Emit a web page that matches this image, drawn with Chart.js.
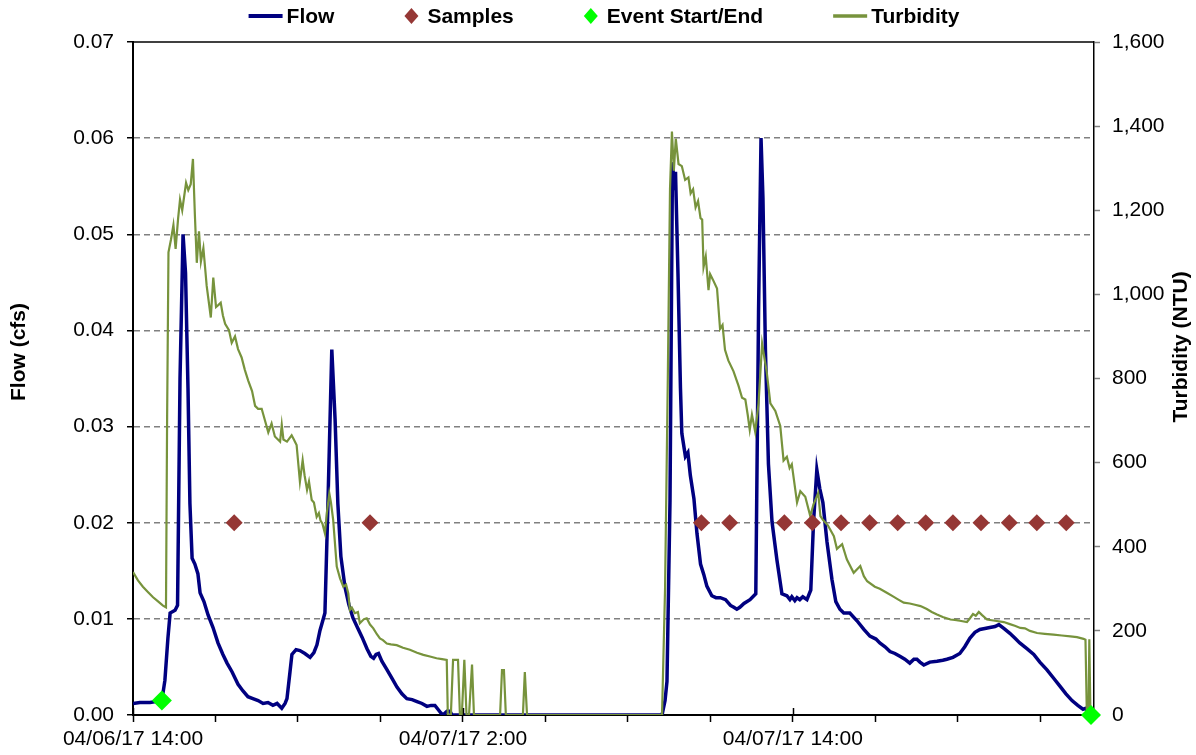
<!DOCTYPE html>
<html lang="en">
<head>
    <meta charset="UTF-8">
    <title>Flow, Samples &amp; Turbidity</title>
    <script src="https://cdn.jsdelivr.net/npm/chart.js"></script>
    <style>
        html, body { margin: 0; padding: 0; background: #fff; }
        #chart-container { position: relative; width: 1196px; height: 755px; }
    </style>
</head>
<body>

<div id="chart-container">
    <canvas id="flowChart"></canvas>
</div>

<script>
    // time axis: hours after 04/06/17 14:00
    const labelHours = [0, 12, 24];
    const labelTexts = ['04/06/17 14:00', '04/07/17 2:00', '04/07/17 14:00'];

    // Flow (cfs)
    const flowHours = [
        0, 0.25, 0.62, 0.84, 1.05, 1.16, 1.27, 1.35, 1.53, 1.62,
        1.71, 1.82, 1.91, 2.00, 2.07, 2.15, 2.25, 2.36, 2.44, 2.58,
        2.73, 2.91, 3.09, 3.27, 3.42, 3.60, 3.82, 4.00, 4.18, 4.36,
        4.55, 4.73, 4.91, 5.09, 5.24, 5.41, 5.53, 5.60, 5.71, 5.78,
        5.93, 6.07, 6.25, 6.44, 6.58, 6.69, 6.80, 6.87, 6.98, 7.09,
        7.23, 7.35, 7.45, 7.56, 7.71, 7.85, 8.00, 8.18, 8.33, 8.51,
        8.65, 8.75, 8.84, 8.93, 9.05, 9.24, 9.42, 9.60, 9.78, 9.96,
        10.15, 10.33, 10.51, 10.69, 10.84, 10.98, 11.09, 11.20, 11.27, 11.42,
        11.53, 11.60, 19.24, 19.35, 19.42, 19.53, 19.62, 19.67, 19.73, 19.82,
        19.91, 19.96, 20.09, 20.18, 20.27, 20.40, 20.51, 20.64, 20.76, 20.87,
        21.05, 21.20, 21.36, 21.55, 21.73, 21.85, 21.96, 22.07, 22.22, 22.44,
        22.65, 22.75, 22.84, 22.91, 23.00, 23.11, 23.24, 23.42, 23.60, 23.78,
        23.89, 23.96, 24.07, 24.15, 24.25, 24.36, 24.51, 24.65, 24.75, 24.87,
        24.98, 25.09, 25.24, 25.42, 25.56, 25.71, 25.85, 26.07, 26.33, 26.58,
        26.80, 27.02, 27.16, 27.35, 27.53, 27.71, 27.89, 28.07, 28.25, 28.40,
        28.51, 28.62, 28.76, 28.98, 29.24, 29.45, 29.60, 29.82, 30.07, 30.25,
        30.44, 30.62, 30.80, 30.98, 31.16, 31.35, 31.49, 31.67, 31.89, 32.07,
        32.25, 32.51, 32.76, 32.98, 33.24, 33.49, 33.71, 33.93, 34.15, 34.36,
        34.55, 34.65, 34.76, 34.84
    ];
    const flowValues = [
        0.0012, 0.0013, 0.0013, 0.0014, 0.0015, 0.0036, 0.0080, 0.0106, 0.0109, 0.0114,
        0.0350, 0.0500, 0.0460, 0.0340, 0.0220, 0.0163, 0.0157, 0.0147, 0.0127, 0.0118,
        0.0104, 0.0091, 0.0075, 0.0063, 0.0054, 0.0045, 0.0032, 0.0025, 0.0019, 0.0017,
        0.0015, 0.0012, 0.0013, 0.0010, 0.0012, 0.0007, 0.0012, 0.0017, 0.0045, 0.0063,
        0.0068, 0.0067, 0.0064, 0.0060, 0.0065, 0.0073, 0.0088, 0.0095, 0.0106, 0.0220,
        0.0380, 0.0307, 0.0220, 0.0165, 0.0133, 0.0115, 0.0101, 0.0090, 0.0081, 0.0069,
        0.0061, 0.0059, 0.0063, 0.0064, 0.0056, 0.0047, 0.0038, 0.0029, 0.0022, 0.0017,
        0.0016, 0.0014, 0.0012, 0.0009, 0.0010, 0.0010, 0.0006, 0.0002, 0, 0.0004,
        0.0004, 0, 0, 0.0015, 0.0035, 0.0223, 0.0575, 0.0555, 0.0565, 0.0459,
        0.0340, 0.0293, 0.0269, 0.0273, 0.0249, 0.0225, 0.0189, 0.0157, 0.0146, 0.0134,
        0.0124, 0.0122, 0.0122, 0.0120, 0.0114, 0.0112, 0.0110, 0.0112, 0.0116, 0.0120,
        0.0126, 0.0419, 0.0600, 0.0538, 0.0380, 0.0261, 0.0201, 0.0161, 0.0126, 0.0124,
        0.0120, 0.0123, 0.0119, 0.0122, 0.0120, 0.0123, 0.0120, 0.0130, 0.0201, 0.0255,
        0.0235, 0.0221, 0.0180, 0.0141, 0.0118, 0.0110, 0.0106, 0.0106, 0.0098, 0.0089,
        0.0082, 0.0079, 0.0075, 0.0071, 0.0066, 0.0064, 0.0061, 0.0058, 0.0054, 0.0058,
        0.0058, 0.0055, 0.0052, 0.0055, 0.0056, 0.0057, 0.0058, 0.0060, 0.0064, 0.0071,
        0.0080, 0.0086, 0.0089, 0.0090, 0.0091, 0.0092, 0.0094, 0.0090, 0.0085, 0.0080,
        0.0075, 0.0069, 0.0063, 0.0055, 0.0047, 0.0038, 0.0030, 0.0022, 0.0015, 0.0010,
        0.0006, 0.0007, 0.0002, 0.0001
    ];

    // Turbidity (NTU)
    const turbHours = [
        0, 0.18, 0.36, 0.55, 0.73, 0.91, 1.09, 1.20, 1.24, 1.29,
        1.38, 1.47, 1.55, 1.64, 1.71, 1.79, 1.93, 2.01, 2.10, 2.18,
        2.25, 2.32, 2.40, 2.47, 2.56, 2.68, 2.83, 2.92, 3.02, 3.11,
        3.19, 3.27, 3.35, 3.49, 3.59, 3.71, 3.82, 3.95, 4.07, 4.19,
        4.33, 4.44, 4.55, 4.68, 4.80, 4.92, 5.04, 5.16, 5.27, 5.35,
        5.41, 5.47, 5.60, 5.77, 5.85, 5.95, 6.07, 6.17, 6.24, 6.33,
        6.40, 6.50, 6.58, 6.68, 6.76, 6.82, 6.89, 6.98, 7.05, 7.14,
        7.20, 7.28, 7.41, 7.53, 7.65, 7.75, 7.83, 7.89, 7.96, 8.07,
        8.18, 8.25, 8.40, 8.50, 8.62, 8.74, 8.87, 8.98, 9.09, 9.23,
        9.38, 9.59, 9.82, 10.07, 10.33, 10.56, 10.80, 11.04, 11.24, 11.41,
        11.45, 11.56, 11.64, 11.82, 11.89, 11.96, 12.05, 12.13, 12.22, 12.33,
        12.40, 13.35, 13.42, 13.49, 13.56, 14.18, 14.25, 14.33, 19.24, 19.35,
        19.45, 19.53, 19.60, 19.67, 19.74, 19.84, 19.96, 20.08, 20.20, 20.28,
        20.37, 20.46, 20.55, 20.64, 20.70, 20.75, 20.83, 20.93, 20.99, 21.09,
        21.24, 21.35, 21.44, 21.53, 21.65, 21.84, 22.02, 22.15, 22.27, 22.36,
        22.43, 22.51, 22.63, 22.75, 22.88, 23.05, 23.18, 23.36, 23.54, 23.66,
        23.78, 23.88, 23.96, 24.15, 24.27, 24.45, 24.63, 24.75, 24.92, 25.00,
        25.09, 25.27, 25.49, 25.60, 25.79, 25.96, 26.21, 26.45, 26.58, 26.70,
        26.98, 27.16, 27.43, 27.64, 27.82, 28.03, 28.25, 28.44, 28.64, 28.87,
        29.05, 29.24, 29.45, 29.73, 29.89, 30.07, 30.33, 30.44, 30.55, 30.65,
        30.76, 30.87, 31.06, 31.35, 31.67, 31.89, 32.07, 32.27, 32.44, 32.62,
        32.88, 33.16, 33.48, 33.78, 34.09, 34.33, 34.57, 34.64, 34.69, 34.75,
        34.78, 34.82
    ];
    const turbValues = [
        340, 320, 305, 292, 280, 270, 260, 256, 700, 1100,
        1130, 1165, 1108, 1180, 1225, 1200, 1265, 1248, 1262, 1322,
        1190, 1075, 1150, 1078, 1110, 1020, 945, 1040, 970, 975,
        980, 950, 930, 915, 885, 900, 870, 850, 820, 795,
        770, 735, 728, 728, 700, 672, 693, 662, 655, 650,
        690, 655, 650, 665, 655, 642, 555, 606, 570, 535,
        555, 511, 505, 471, 480, 462, 455, 432, 480, 527,
        505, 464, 353, 325, 305, 310, 289, 250, 255, 242,
        245, 218, 228, 230, 215, 206, 192, 182, 178, 170,
        168, 166, 160, 155, 148, 143, 139, 135, 133, 131,
        0, 0, 131, 131, 0, 0, 131, 0, 0, 120,
        0, 0, 107, 107, 0, 0, 102, 0, 0, 300,
        800, 1250, 1387, 1294, 1370, 1310, 1305, 1272, 1278, 1240,
        1250, 1207, 1222, 1181, 1178, 1065, 1090, 1010, 1048, 1035,
        1014, 918, 927, 868, 843, 817, 783, 754, 750, 712,
        678, 714, 673, 741, 883, 814, 741, 723, 687, 605,
        614, 587, 596, 505, 532, 519, 473, 501, 528, 473,
        464, 451, 425, 395, 406, 370, 338, 354, 330, 318,
        305, 300, 290, 282, 275, 267, 265, 262, 259, 252,
        245, 239, 233, 227, 226, 224, 221, 230, 240, 236,
        245, 238, 227, 224, 221, 216, 212, 207, 206, 200,
        195, 193, 191, 189, 187, 185, 181, 179, 0, 0,
        180, 0
    ];

    // Samples (plotted on the flow axis)
    const sampleHours = [3.68, 8.62, 20.67, 21.70, 23.69, 24.71, 25.75, 26.79, 27.81, 28.83, 29.82, 30.84, 31.87, 32.87, 33.94];
    const sampleValues = [0.02, 0.02, 0.02, 0.02, 0.02, 0.02, 0.02, 0.02, 0.02, 0.02, 0.02, 0.02, 0.02, 0.02, 0.02];

    // Event start / end
    const eventHours = [1.05, 34.84];
    const eventValues = [0.0015, 0];

    const FONT = "'Liberation Sans', Arial, Helvetica, sans-serif";

    function toPoints(xs, ys) {
        if (xs.length !== ys.length) console.warn('length mismatch', xs.length, ys.length);
        return xs.map((x, i) => ({ x: x, y: ys[i] }));
    }

    // legend row + axis titles + top frame line
    const decorPlugin = {
        id: 'decor',
        afterDraw(chart) {
            const { ctx, chartArea: a, scales } = chart;
            ctx.save();

            ctx.strokeStyle = '#000';
            ctx.lineWidth = 1.5;
            ctx.beginPath();
            ctx.moveTo(a.left, a.top);
            ctx.lineTo(a.right, a.top);
            ctx.stroke();

            // major ticks also cross the axis
            labelHours.forEach(h => {
                const x = Math.round(scales.x.getPixelForValue(h)) + 0.5;
                ctx.beginPath();
                ctx.moveTo(x, a.bottom - 7);
                ctx.lineTo(x, a.bottom);
                ctx.stroke();
            });

            // axis titles
            ctx.fillStyle = '#000';
            ctx.font = 'bold 21px ' + FONT;
            ctx.textAlign = 'center';
            ctx.textBaseline = 'middle';
            ctx.save();
            ctx.translate(19, 352);
            ctx.rotate(-Math.PI / 2);
            ctx.fillText('Flow (cfs)', 0, 0);
            ctx.restore();
            ctx.save();
            ctx.translate(1181, 347);
            ctx.rotate(-Math.PI / 2);
            ctx.fillText('Turbidity (NTU)', 0, 0);
            ctx.restore();

            // legend
            const items = chart.data.datasets.map(ds => ({
                text: ds.label,
                color: ds.borderColor,
                fill: ds.backgroundColor,
                diamond: ds.showLine === false,
                width: ds.legendLineWidth || 0
            }));
            ctx.textAlign = 'left';
            const widths = items.map(it => (it.diamond ? 23 : 38) + ctx.measureText(it.text).width);
            const gap = 70;
            const total = widths.reduce((s, w) => s + w, 0) + gap * (items.length - 1);
            let x = chart.width / 2 + 6 - total / 2;
            const y = 16;
            items.forEach((it, i) => {
                let tx;
                if (it.diamond) {
                    const cx = x + 7;
                    ctx.fillStyle = it.fill;
                    ctx.beginPath();
                    ctx.moveTo(cx - 7, y);
                    ctx.lineTo(cx, y - 8);
                    ctx.lineTo(cx + 7, y);
                    ctx.lineTo(cx, y + 8);
                    ctx.closePath();
                    ctx.fill();
                    tx = x + 23;
                } else {
                    ctx.strokeStyle = it.color;
                    ctx.lineWidth = it.width;
                    ctx.beginPath();
                    ctx.moveTo(x, y);
                    ctx.lineTo(x + 34, y);
                    ctx.stroke();
                    tx = x + 38;
                }
                ctx.fillStyle = '#000';
                ctx.fillText(it.text, tx, y + 1);
                x += widths[i] + gap;
            });

            ctx.restore();
        }
    };

    Chart.defaults.font.family = FONT;
    Chart.defaults.font.size = 21;
    Chart.defaults.color = '#000';

    const ctx = document.getElementById('flowChart').getContext('2d');

    new Chart(ctx, {
        type: 'line',
        data: {
            datasets: [
                {
                    label: 'Flow',
                    data: toPoints(flowHours, flowValues),
                    yAxisID: 'y',
                    borderColor: '#000080',
                    backgroundColor: '#000080',
                    borderWidth: 3.5,
                    legendLineWidth: 4,
                    pointRadius: 0,
                    tension: 0,
                    order: 3
                },
                {
                    label: 'Samples',
                    data: toPoints(sampleHours, sampleValues),
                    yAxisID: 'y',
                    showLine: false,
                    pointStyle: 'rectRot',
                    pointRadius: 8.5,
                    borderWidth: 0,
                    borderColor: '#953735',
                    backgroundColor: '#953735',
                    clip: false,
                    order: 1
                },
                {
                    label: 'Event Start/End',
                    data: toPoints(eventHours, eventValues),
                    yAxisID: 'y',
                    showLine: false,
                    pointStyle: 'rectRot',
                    pointRadius: 10,
                    borderWidth: 0,
                    borderColor: '#00FF00',
                    backgroundColor: '#00FF00',
                    clip: false,
                    order: 0
                },
                {
                    label: 'Turbidity',
                    data: toPoints(turbHours, turbValues),
                    yAxisID: 'y1',
                    borderColor: '#77933C',
                    backgroundColor: '#77933C',
                    borderWidth: 2.2,
                    legendLineWidth: 3.5,
                    pointRadius: 0,
                    tension: 0,
                    order: 2
                }
            ]
        },
        options: {
            responsive: true,
            maintainAspectRatio: false,
            animation: false,
            layout: { padding: { top: 42, left: 0, right: 0, bottom: 0 } },
            plugins: {
                legend: { display: false },
                tooltip: { enabled: false }
            },
            scales: {
                x: {
                    type: 'linear',
                    position: 'bottom',
                    min: 0,
                    max: 34.95,
                    afterFit: s => { s.height = 40; },
                    border: { color: '#000', width: 2 },
                    grid: { drawOnChartArea: false, drawTicks: true, tickLength: 7, tickColor: '#000', tickWidth: 1.5 },
                    ticks: {
                        stepSize: 3,
                        autoSkip: false,
                        maxRotation: 0,
                        includeBounds: false,
                        padding: 5,
                        callback: v => {
                            const i = labelHours.indexOf(v);
                            return i >= 0 ? labelTexts[i] : '';
                        }
                    }
                },
                y: {
                    position: 'left',
                    min: 0,
                    max: 0.07,
                    afterFit: s => { s.width = 133; },
                    border: { color: '#000', width: 2, dash: [6, 4] },
                    grid: {
                        color: c => (c.tick && c.tick.value > 0.0001 && c.tick.value < 0.0699) ? '#808080' : 'rgba(0,0,0,0)',
                        lineWidth: 1.5,
                        tickColor: '#000',
                        tickLength: 6,
                        tickWidth: 1.5
                    },
                    ticks: {
                        stepSize: 0.01,
                        padding: 13,
                        callback: v => v.toFixed(2)
                    }
                },
                y1: {
                    position: 'right',
                    min: 0,
                    max: 1600,
                    afterFit: s => { s.width = 102; },
                    border: { color: '#000', width: 1.5 },
                    grid: { drawOnChartArea: false, tickColor: '#808080', tickLength: 6, tickWidth: 1.5 },
                    ticks: {
                        stepSize: 200,
                        padding: 12,
                        callback: v => v.toLocaleString('en-US')
                    }
                }
            }
        },
        plugins: [decorPlugin]
    });
</script>

</body>
</html>
